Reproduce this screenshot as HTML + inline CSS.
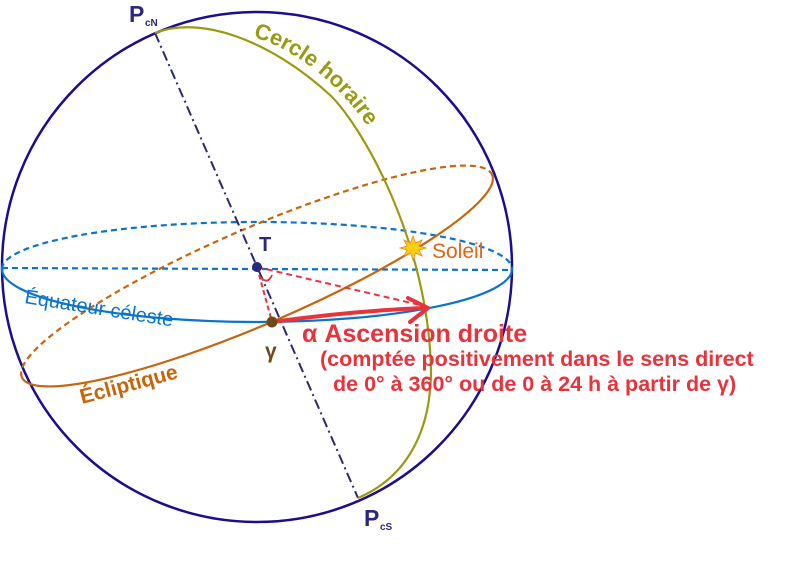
<!DOCTYPE html>
<html><head><meta charset="utf-8"><style>
html,body{margin:0;padding:0;background:#fff;}
svg{display:block;}
text{font-family:"Liberation Sans",Arial,sans-serif;font-weight:bold;}
</style></head><body>
<svg width="800" height="588" viewBox="0 0 800 588" xmlns="http://www.w3.org/2000/svg">
<defs>
<path id="hc" d="M253,37 C292,48 335,80 366,124"/>
</defs>
<circle cx="257" cy="267" r="255" fill="none" stroke="#1c0c90" stroke-width="2.5"/>
<path d="M2,269 A255 47 0 0 1 512,269" fill="none" stroke="#0a74cc" stroke-width="2.2" stroke-dasharray="6,4"/>
<line x1="2" y1="268" x2="512" y2="270" stroke="#0a74cc" stroke-width="2.2" stroke-dasharray="6,4"/>
<path d="M2,269 A255 53 0 0 0 512,269" fill="none" stroke="#0a74cc" stroke-width="2.2"/>
<g transform="rotate(-23.3 257 276)">
<path d="M1,276 A256 48 0 0 1 513,276" fill="none" stroke="#c8640a" stroke-width="2.2" stroke-dasharray="6,4"/>
<path d="M1,276 A256 48 0 0 0 513,276" fill="none" stroke="#c8640a" stroke-width="2.2"/>
</g>
<line x1="155" y1="33" x2="358" y2="498" stroke="#2a2870" stroke-width="2" stroke-dasharray="10,4,2,4"/>
<path d="M155,33 C200,15 270,40 330,95 C362,126 428,240 431,370 C431,440 400,480 358,498" fill="none" stroke="#9a9a12" stroke-width="2.2"/>
<line x1="257" y1="267" x2="420" y2="305" stroke="#e8323c" stroke-width="2" stroke-dasharray="6,4"/>
<line x1="257" y1="267" x2="272" y2="322" stroke="#e8323c" stroke-width="2" stroke-dasharray="5,3"/>
<path d="M260,277 Q268,285 272,275" fill="none" stroke="#e8323c" stroke-width="1.8"/>
<path d="M272,322 Q350,311 424,308" fill="none" stroke="#e8323c" stroke-width="4"/>
<path d="M428,308 L408,298 M428,308 L410,322" stroke="#e8323c" stroke-width="4" stroke-linecap="round"/>
<circle cx="257" cy="267" r="5" fill="#2a2880"/>
<circle cx="272" cy="322" r="5.5" fill="#6e4a1a"/>
<polygon points="413,236 415.5,243 422,240 419,246 426,248 419,250 422,256 415.5,253 413,260 410.5,253 404,256 407,250 400,248 407,246 404,240 410.5,243" fill="#f8d010" stroke="#f08030" stroke-width="0.8"/>
<text x="129" y="22" font-size="23" fill="#2a2878">P</text>
<text x="145" y="26" font-size="10" fill="#2a2878">cN</text>
<text x="364" y="526" font-size="23" fill="#2a2878">P</text>
<text x="380" y="530" font-size="10" fill="#2a2878">cS</text>
<text font-size="22" fill="#9a9a12"><textPath href="#hc">Cercle horaire</textPath></text>
<text x="259" y="251" font-size="20" fill="#2a2878">T</text>
<text x="265" y="358" font-size="21" fill="#6e4a1a">γ</text>
<text x="432" y="258" font-size="21" fill="#e06414" style="font-weight:normal">Soleil</text>
<text x="0" y="0" font-size="20" fill="#0a74cc" style="font-weight:normal" transform="translate(24,303) rotate(9)">Équateur céleste</text>
<text x="0" y="0" font-size="21" fill="#c8640a" transform="translate(82,404) rotate(-15)">Écliptique</text>
<text x="302" y="342" font-size="25" fill="#e8323c">α Ascension droite</text>
<text x="320" y="366" font-size="21.5" fill="#e8323c">(comptée positivement dans le sens direct</text>
<text x="333" y="391" font-size="21.5" fill="#e8323c">de 0° à 360° ou de 0 à 24 h à partir de γ)</text>
</svg>
</body></html>
